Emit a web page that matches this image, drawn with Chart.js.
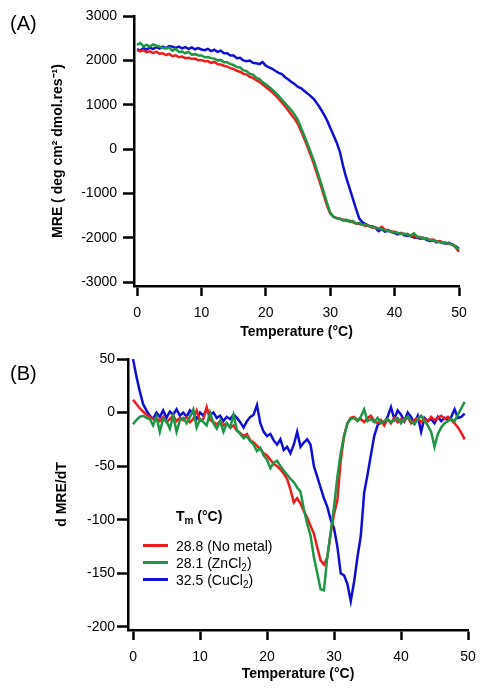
<!DOCTYPE html>
<html>
<head>
<meta charset="utf-8">
<script src="https://cdn.jsdelivr.net/npm/chart.js@4/dist/chart.umd.min.js"></script>
<style>
html,body{margin:0;padding:0;background:#fff;width:486px;height:692px;overflow:hidden;font-family:"Liberation Sans",Arial,sans-serif;color:#000;}
.wrap{position:absolute;left:0;width:486px;}
#wa{top:0;height:345px;}
#wb{top:345px;height:347px;}
.plabel{position:absolute;left:10px;font-size:20px;line-height:20px;}
.lg{position:absolute;font-size:14px;line-height:18px;white-space:nowrap;}
.lg sub{font-size:10px;vertical-align:-3px;line-height:0;}
.sw{position:absolute;left:0;top:7px;width:25px;height:3px;}
</style>
</head>
<body>
<div class="wrap" id="wa"><canvas id="ca" width="486" height="345"></canvas></div>
<div class="wrap" id="wb"><canvas id="cb" width="486" height="347"></canvas></div>
<div class="plabel" style="top:13px">(A)</div>
<div class="plabel" style="top:363px">(B)</div>
<div id="legend"></div>
<script>
// ---------- DATA ----------
const seriesNames = ['28.8 (No metal)', '28.1 (ZnCl2)', '32.5 (CuCl2)'];
const legendTitle = 'Tm (°C)';
const xTicks = [0, 10, 20, 30, 40, 50];
const yTicksA = [-3000, -2000, -1000, 0, 1000, 2000, 3000];
const yTicksB = [-200, -150, -100, -50, 0, 50];

// Panel A: temperature (°C)
const tempA = [0,0.5,1,1.5,2,2.5,3,3.5,4,4.5,5,5.5,6,6.5,7,7.5,8,8.5,9,9.5,
 10,10.5,11,11.5,12,12.5,13,13.5,14,14.5,15,15.5,16,16.5,17,17.5,18,18.5,19,19.5,
 20,20.5,21,21.5,22,22.5,23,23.5,24,24.5,25,25.5,26,26.5,27,27.5,28,28.5,29,29.5,
 30,30.5,31,31.5,32,32.5,33,33.5,34,34.5,35,35.5,36,36.5,37,37.5,38,38.5,39,39.5,
 40,40.5,41,41.5,42,42.5,43,43.5,44,44.5,45,45.5,46,46.5,47,47.5,48,48.5,49,49.5,50];

const mreNoMetal = [
 2230,2200,2225,2185,2205,2165,2195,2150,2160,2120,
 2145,2095,2115,2070,2085,2050,2060,2030,2040,2005,
 2010,1980,1985,1945,1965,1915,1905,1880,1860,1825,
 1805,1765,1745,1700,1680,1630,1605,1555,1515,1455,
 1400,1340,1280,1210,1130,1050,960,870,770,680,
 560,400,220,40,-150,-350,-580,-800,-1040,-1270,
 -1450,-1520,-1550,-1570,-1590,-1620,-1610,-1650,-1670,-1690,
 -1700,-1730,-1720,-1770,-1760,-1800,-1750,-1820,-1825,-1860,
 -1860,-1890,-1895,-1930,-1910,-1960,-1950,-1990,-1980,-2020,
 -2010,-2050,-2040,-2080,-2070,-2110,-2110,-2140,-2150,-2220,
 -2310];
const mreZn = [
 2350,2390,2320,2350,2310,2360,2330,2310,2280,2270,
 2290,2220,2260,2190,2200,2160,2190,2130,2140,2110,
 2110,2070,2075,2050,2040,2000,2010,1960,1960,1915,
 1895,1850,1840,1780,1760,1700,1680,1610,1580,1510,
 1460,1400,1340,1270,1200,1110,1030,950,870,770,
 650,470,290,110,-80,-280,-500,-730,-970,-1210,
 -1430,-1530,-1560,-1570,-1610,-1590,-1640,-1620,-1680,-1660,
 -1710,-1700,-1740,-1750,-1770,-1790,-1800,-1830,-1840,-1860,
 -1880,-1890,-1910,-1900,-1930,-1950,-1900,-1970,-1990,-2000,
 -2030,-2050,-2060,-2080,-2100,-2120,-2110,-2130,-2150,-2200,
 -2260];
const mreCu = [
 2250,2220,2275,2245,2290,2255,2300,2265,2310,2275,
 2320,2310,2280,2310,2270,2300,2260,2290,2250,2275,
 2245,2230,2260,2210,2240,2190,2220,2160,2160,2110,
 2110,2050,2060,2000,1980,1995,1945,1935,1915,1960,
 1880,1840,1810,1760,1720,1690,1620,1570,1510,1460,
 1400,1370,1310,1250,1190,1120,1020,910,790,650,
 480,320,150,-60,-380,-650,-880,-1110,-1340,-1560,
 -1650,-1690,-1730,-1740,-1770,-1850,-1800,-1860,-1840,-1870,
 -1890,-1920,-1890,-1940,-1950,-1960,-1990,-2000,-2020,-2000,
 -2050,-2070,-2060,-2100,-2080,-2110,-2130,-2110,-2160,-2190,
 -2240];

// Panel B: temperature (°C)
const tempB = [0,0.5,1,1.5,2,2.5,3,3.5,4,4.5,5,5.5,6,6.5,7,7.5,8,8.5,9,9.5,
 10,10.5,11,11.5,12,12.5,13,13.5,14,14.5,15,15.5,16,16.5,17,17.5,18,18.5,19,19.5,
 20,20.5,21,21.5,22,22.5,23,23.5,24,24.5,25,25.5,26,26.5,27,27.5,28,28.5,29,29.5,
 30,30.5,31,31.5,32,32.5,33,33.5,34,34.5,35,35.5,36,36.5,37,37.5,38,38.5,39,39.5,
 40,40.5,41,41.5,42,42.5,43,43.5,44,44.5,45,45.5,46,46.5,47,47.5,48,48.5,49,49.5];

const dNoMetal = [
 12,8,4,1,-2,-4,-6,-5,-8,-4,
 -9,-6,-3,-8,-5,-7,-4,-9,-6,2,
 -8,-6,5,-7,-9,-11,-8,-12,-10,-14,
 -12,-17,-19,-22,-20,-26,-28,-31,-34,-38,
 -40,-44,-48,-50,-53,-57,-62,-72,-84,-80,
 -85,-92,-98,-106,-113,-126,-138,-142,-135,-113,
 -95,-82,-45,-22,-10,-5,-4,-7,-6,-9,
 -5,-3,-8,-10,-7,-12,-6,-10,-5,-9,
 -6,-8,-4,-10,-7,-5,-9,-6,-8,-4,
 -7,-5,-3,-6,-4,-7,-10,-14,-19,-25];
const dZn = [
 -11,-7,-4,-3,-5,-6,-12,-4,-18,-6,
 -8,-15,-3,-18,-7,-5,-10,-4,3,-14,
 -6,-9,-12,0,-10,-15,-8,-18,-10,-14,
 -2,-16,-20,-24,-22,-27,-30,-36,-33,-40,
 -44,-52,-47,-45,-50,-54,-58,-62,-65,-70,
 -74,-90,-104,-115,-135,-150,-165,-166,-135,-112,
 -88,-60,-38,-22,-10,-6,-5,-8,-4,3,
 -8,-6,-9,-5,-10,-8,-6,-9,-7,-5,
 -10,-6,-4,-8,-11,-6,-3,-8,-12,-18,
 -32,-20,-14,-10,-8,-6,-8,-2,4,10];
const dCu = [
 50,34,20,8,2,-3,-6,0,-4,2,
 -5,1,-2,3,-3,0,-4,2,-1,-6,
 0,-3,3,-2,0,-5,-3,-8,-4,-6,
 -2,-5,-9,-14,-8,-4,-2,7,-10,-18,
 -22,-20,-26,-30,-25,-35,-32,-38,-30,-18,
 -32,-28,-25,-30,-50,-60,-70,-80,-88,-100,
 -108,-125,-150,-152,-160,-176,-158,-135,-115,-75,
 -58,-40,-22,-12,-8,-10,-4,5,-6,2,
 -2,-8,0,-4,-10,-3,-18,-5,-8,-6,
 -10,-4,-8,-5,-7,-4,3,-5,-4,-1];

// ---------- STYLE ----------
const colors = ['#ee1c1c', '#1e9646', '#0f0fd2'];
const drawOrder = [1, 0, 2];
const FONT = '"Liberation Sans", Arial, sans-serif';

function zip(xs, ys) { return ys.map((y, i) => ({x: xs[i], y: y})); }

function makeDatasets(xs, seriesList) {
  return seriesList.map((s, i) => ({
    label: seriesNames[i],
    data: zip(xs, s),
    borderColor: colors[i],
    backgroundColor: colors[i],
    borderWidth: 2.5,
    pointRadius: 0,
    tension: 0,
    fill: false,
    order: drawOrder[i],
    clip: 6
  }));
}

function xAxis(min, titlePad, tickPad, h) {
  return {
    type: 'linear', position: 'bottom', min: min, max: 50,
    afterBuildTicks: s => { s.ticks = xTicks.map(v => ({value: v})); },
    afterFit: s => { s.height = h; },
    grid: {drawOnChartArea: false, drawTicks: true, tickLength: 10, tickWidth: 2.5, tickColor: '#000'},
    border: {display: true, color: '#000', width: 2.5},
    ticks: {color: '#000', font: {family: FONT, size: 14}, padding: tickPad, maxRotation: 0, autoSkip: false, callback: v => String(v)},
    title: {display: true, text: 'Temperature (°C)', color: '#000', font: {family: FONT, size: 14, weight: 'bold'}, padding: {top: 0, bottom: titlePad}}
  };
}
function yAxis(min, max, tickVals, title, titlePad, tickPad, w) {
  return {
    type: 'linear', position: 'left', min: min, max: max,
    afterBuildTicks: s => { s.ticks = tickVals.map(v => ({value: v})); },
    afterFit: s => { s.width = w; },
    grid: {drawOnChartArea: false, drawTicks: true, tickLength: 11, tickWidth: 2.5, tickColor: '#000'},
    border: {display: true, color: '#000', width: 2.5},
    ticks: {color: '#000', font: {family: FONT, size: 14}, padding: tickPad, autoSkip: false, callback: v => String(v)},
    title: {display: true, text: title, color: '#000', font: {family: FONT, size: 14, weight: 'bold'}, padding: {top: titlePad, bottom: 0}}
  };
}

const common = {
  responsive: false, animation: false, devicePixelRatio: 1, events: [],
  plugins: {legend: {display: false}, tooltip: {enabled: false}, title: {display: false}}
};

new Chart(document.getElementById('ca'), {
  type: 'line',
  data: {datasets: makeDatasets(tempA, [mreNoMetal, mreZn, mreCu])},
  options: Object.assign({}, common, {
    layout: {padding: {top: 16, right: 27, left: 0, bottom: 0}},
    scales: {
      x: xAxis(-0.47, 4, 9, 59),
      y: yAxis(-3085, 3000, yTicksA, 'MRE ( deg cm² dmol.res⁻¹)', 50, 6, 134)
    }
  })
});

const chartB = new Chart(document.getElementById('cb'), {
  type: 'line',
  data: {datasets: makeDatasets(tempB, [dNoMetal, dZn, dCu])},
  options: Object.assign({}, common, {
    layout: {padding: {top: 14, right: 18, left: 0, bottom: 0}},
    scales: {
      x: xAxis(-0.75, 9, 9, 62),
      y: yAxis(-203, 50, yTicksB, 'd MRE/dT', 54, 2, 128)
    }
  })
});

// ---------- LEGEND (HTML, built from the chart's datasets) ----------
function subify(t) { return t.replace(/Cl2/g, 'Cl<sub>2</sub>').replace(/^Tm/, 'T<sub>m</sub>'); }
const lg = document.getElementById('legend');
const head = document.createElement('div');
head.className = 'lg';
head.style.left = '176px'; head.style.top = '507px'; head.style.fontWeight = 'bold';
head.innerHTML = subify(legendTitle);
lg.appendChild(head);
chartB.data.datasets.forEach((ds, i) => {
  const item = document.createElement('div');
  item.className = 'lg';
  item.style.left = '143px';
  item.style.top = (546 + i * 17 - 9) + 'px';
  item.innerHTML = '<span class="sw" style="background:' + ds.borderColor + '"></span><span style="position:absolute;left:33px;top:0">' + subify(ds.label) + '</span>';
  item.style.width = '200px'; item.style.height = '18px';
  lg.appendChild(item);
});
</script>
</body>
</html>
